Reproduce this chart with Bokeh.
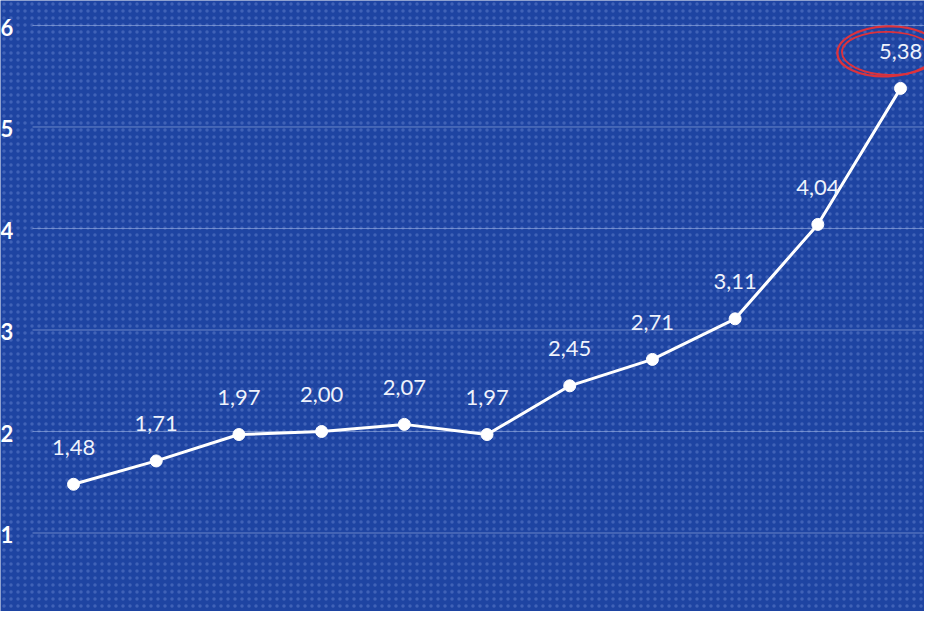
from bokeh.plotting import figure
from bokeh.models import Range1d, ColumnDataSource
from bokeh.core.properties import value
from bokeh.embed import file_html
from bokeh.resources import INLINE

# data
idx = [0, 1, 2, 3, 4, 5, 6, 7, 8, 9, 10]
values = [1.48, 1.71, 1.97, 2.00, 2.07, 1.97, 2.45, 2.71, 3.11, 4.04, 5.38]
y_ticks = [1, 2, 3, 4, 5, 6]
y_tick_labels = ["1", "2", "3", "4", "5", "6"]
labels = [f"{v:.2f}".replace(".", ",") for v in values]

BG = "#1e44a2"
X0, X1 = -0.883, 10.29
Y0, Y1 = 0.2266, 6.246
GRID_START = -0.496

p = figure(width=924, height=611, output_backend="svg", toolbar_location=None,
           x_range=Range1d(X0, X1), y_range=Range1d(Y0, Y1),
           min_border_left=0, min_border_right=0, min_border_top=0, min_border_bottom=0,
           background_fill_color=BG, border_fill_color=BG, outline_line_color=None,
           x_axis_location=None, y_axis_location=None)
p.grid.visible = False

# subtle dotted texture of the background
p.quad(left=[X0], right=[X1], bottom=[Y0], top=[Y1], fill_alpha=0, line_color=None,
       hatch_pattern="dot", hatch_color="#7d9be0", hatch_alpha=0.35, hatch_scale=7,
       hatch_weight=1)

# horizontal gridlines
p.segment(x0=[GRID_START] * len(y_ticks), y0=y_ticks, x1=[X1] * len(y_ticks), y1=y_ticks,
          line_color="#a9bdea", line_alpha=0.55, line_width=1)

# y tick labels
p.text(x=[X0] * len(y_ticks), y=y_ticks, text=y_tick_labels, x_offset=0, y_offset=2,
       text_align="left", text_baseline="middle", text_color="white",
       text_font=value("Lato"), text_font_style="bold", text_font_size="22px")

src = ColumnDataSource(dict(x=idx, y=values, t=labels))
p.line("x", "y", source=src, line_color="white", line_width=3)
p.scatter("x", "y", source=src, size=12, fill_color="white", line_color="white")
p.text("x", "y", text="t", source=src, text_color="#eef2fb", text_align="center",
       text_baseline="middle", y_offset=-37, text_font=value("Lato"),
       text_font_size="22px")

# red hand-drawn ellipse around last label
ex = idx[-1] - 0.16
ey = values[-1] + 0.365
p.ellipse([ex], [ey], width=100, height=50, width_units="screen", height_units="screen",
          angle=0.04, fill_alpha=0, line_color="#dc323c", line_width=2.2)
p.ellipse([ex + 0.02], [ey - 0.02], width=94, height=43, width_units="screen",
          height_units="screen", angle=-0.03, fill_alpha=0, line_color="#dc323c", line_width=1.8)

open("out.html", "w").write(file_html(p, INLINE))
